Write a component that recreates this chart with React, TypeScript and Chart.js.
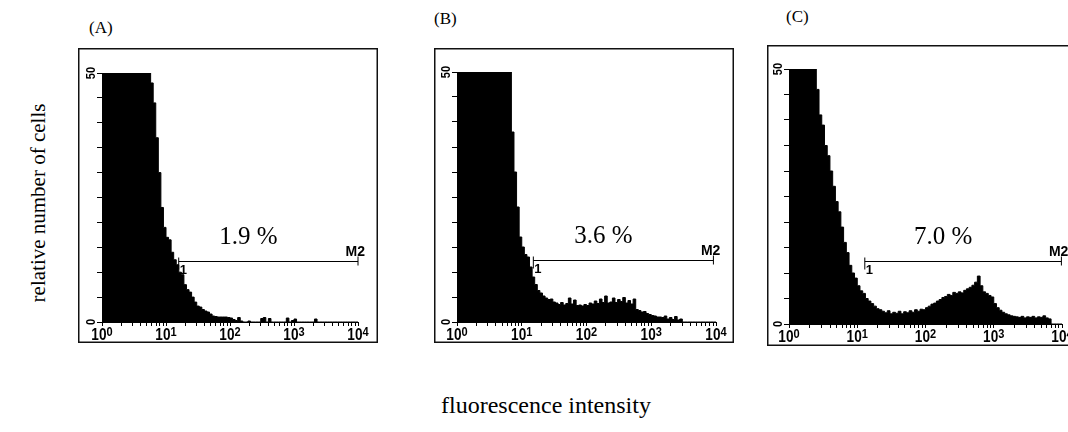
import React, { useEffect, useRef } from 'react';
import { Chart, registerables } from 'chart.js';

Chart.register(...registerables);

// ---- data (channels: 25 per decade, 10^0 .. 10^4) ----
const BINS_PER_DECADE = 25;

const COUNTS_A = [
  50, 50, 50, 50, 50, 50, 50, 50, 50, 50,
  50, 50, 50, 50, 50, 50, 50, 50, 50, 50,
  48, 44, 37, 30, 23, 19, 17, 16.5, 14, 12.5,
  11.5, 10, 9.5, 7.5, 6.5, 6, 5, 4, 3.2, 3,
  2.5, 2.2, 2, 1.6, 1.2, 1.1, 1, 1, 1, 1,
  0.9, 0.8, 0.5, 0.3, 0.9, 0.2, 0, 0, 0.2, 0,
  0, 0, 0, 0.7, 0.9, 0, 0.7, 0, 0, 0,
  0, 0, 0, 0.8, 0, 0.3, 0.6, 0, 0, 0,
  0, 0, 0, 0, 0.6, 0, 0, 0, 0, 0,
  0, 0, 0, 0, 0, 0, 0, 0, 0, 0,
];

const COUNTS_B = [
  50, 50, 50, 50, 50, 50, 50, 50, 50, 50,
  50, 50, 50, 50, 50, 50, 50, 50, 50, 50,
  50, 50, 38, 30, 23, 17, 15, 13.5, 13, 11,
  9, 7.5, 6.3, 5.8, 5.2, 4.8, 4.5, 4.6, 4.0, 3.8,
  3.5, 3.9, 3.4, 3.7, 4.8, 3.6, 4.4, 3.3, 3.4, 3.2,
  3.5, 3.3, 3.8, 3.6, 4.2, 3.7, 4.6, 3.9, 5.2, 3.8,
  4.0, 4.8, 3.9, 4.5, 4.1, 4.9, 3.8, 4.3, 3.6, 4.6,
  2.5, 2.3, 2.0, 2.1, 1.7, 1.5, 1.3, 1.2, 1.0, 1.0,
  0.9, 1.2, 0.6, 0.9, 0.5, 1.1, 0.4, 0.6, 0, 0,
  0, 0, 0, 0, 0, 0, 0, 0, 0, 0,
];

const COUNTS_C = [
  50, 50, 50, 50, 50, 50, 50, 50, 50, 50,
  50, 46, 41, 39, 35, 33, 30, 27, 24, 22,
  19, 16, 14, 11.5, 10, 9, 7.5, 6.5, 6, 5,
  4.5, 4, 3.5, 3, 2.8, 2.5, 2.2, 2.6, 2.0, 2.3,
  2.1, 2.5, 2.0, 2.4, 2.2, 2.6, 2.3, 2.8, 2.5, 2.9,
  2.8, 3.2, 3.5, 3.9, 4.1, 4.5, 4.8, 5.2, 5.4, 5.8,
  5.6, 6.2, 6.0, 6.3, 6.1, 6.6, 6.9, 7.2, 7.6, 8.2,
  9.4, 7.5, 6.3, 6.0, 5.6, 5.3, 4.0, 3.2, 2.7, 2.3,
  2.0, 1.8, 1.6, 1.5, 1.4, 1.3, 1.5, 1.2, 1.4, 1.3,
  1.5, 1.2, 1.4, 1.3, 1.6, 1.2, 1.0, 0, 0, 0,
];

const X_TICK_VALUES = [
  1, 2, 3, 4, 5, 6, 7, 8, 9,
  10, 20, 30, 40, 50, 60, 70, 80, 90,
  100, 200, 300, 400, 500, 600, 700, 800, 900,
  1000, 2000, 3000, 4000, 5000, 6000, 7000, 8000, 9000,
  10000,
];
// decade labels: base "10" with exponent
const X_LABEL_VALUES = [1, 10, 100, 1000, 10000];
const X_LABEL_BASE = '10';
const X_LABEL_EXPONENTS = ['0', '1', '2', '3', '4'];
const Y_TICK_LABELS = [0, 50];

const PANEL_LABELS = ['(A)', '(B)', '(C)'];
const PERCENT_LABELS = ['1.9 %', '3.6 %', '7.0 %'];
const GATE_NAME = 'M2';
const GATE_START = [15.8, 15.1, 12.9];
const GATE_END = [10000, 9120, 9800];
const GATE_LEVEL = [12.2, 12.35, 12.35];

const Y_TITLE = 'relative number of cells';
const X_TITLE = 'fluorescence intensity';

// ---- layout ----
const GEOMETRY = [
  { left: 78, top: 48, w: 300, h: 295, axisW: 24, axisH: 21, padTop: 25, padRight: 20, labelX: 89, labelY: 28 },
  { left: 434, top: 48, w: 300, h: 295, axisW: 23, axisH: 21, padTop: 24, padRight: 18, labelX: 434, labelY: 19 },
  { left: 767, top: 45, w: 315, h: 301, axisW: 22, axisH: 22, padTop: 24, padRight: 20, labelX: 786, labelY: 17 },
];

const SANS = '"Liberation Sans", Arial, sans-serif';
const SERIF = '"Liberation Serif", "Times New Roman", serif';

const framePlugin = {
  id: 'frame',
  beforeDraw(chart: any) {
    const { ctx, width, height } = chart;
    ctx.save();
    ctx.fillStyle = '#fff';
    ctx.fillRect(0, 0, width, height);
    ctx.strokeStyle = '#111';
    ctx.lineWidth = 1.5;
    ctx.strokeRect(0.75, 0.75, width - 1.5, height - 1.5);
    ctx.restore();
  },
};

const axisLabelPlugin = {
  id: 'axislabels',
  afterDraw(chart: any) {
    const { ctx, scales, chartArea } = chart;
    const y = scales.y;
    const x = scales.x;
    ctx.save();
    ctx.fillStyle = '#000';
    // y labels, rotated
    ctx.font = `bold 13px ${SANS}`;
    ctx.textAlign = 'center';
    ctx.textBaseline = 'middle';
    Y_TICK_LABELS.forEach((v) => {
      ctx.save();
      ctx.translate(chartArea.left - 11, y.getPixelForValue(v));
      ctx.rotate(-Math.PI / 2);
      ctx.scale(0.85, 1);
      ctx.fillText(String(v), 0, 0);
      ctx.restore();
    });
    // x decade labels
    const base = chartArea.bottom;
    X_LABEL_VALUES.forEach((v, i) => {
      const px = x.getPixelForValue(v);
      ctx.save();
      ctx.translate(px, base);
      ctx.scale(0.85, 1);
      ctx.font = `bold 16px ${SANS}`;
      const wb = ctx.measureText(X_LABEL_BASE).width;
      ctx.font = `bold 13px ${SANS}`;
      const we = ctx.measureText(X_LABEL_EXPONENTS[i]).width;
      const start = -(wb + we) / 2;
      ctx.textAlign = 'left';
      ctx.textBaseline = 'alphabetic';
      ctx.font = `bold 16px ${SANS}`;
      ctx.fillText(X_LABEL_BASE, start, 18);
      ctx.font = `bold 13px ${SANS}`;
      ctx.fillText(X_LABEL_EXPONENTS[i], start + wb, 14);
      ctx.restore();
    });
    ctx.restore();
  },
};

function gatePlugin(i: number) {
  return {
    id: 'gate' + i,
    afterDatasetsDraw(chart: any) {
      const { ctx, scales } = chart;
      const x0 = scales.x.getPixelForValue(GATE_START[i]);
      const x1 = scales.x.getPixelForValue(GATE_END[i]);
      const yy = Math.round(scales.y.getPixelForValue(GATE_LEVEL[i])) + 0.5;
      ctx.save();
      ctx.strokeStyle = '#000';
      ctx.fillStyle = '#000';
      ctx.lineWidth = 1;
      ctx.beginPath();
      ctx.moveTo(x0, yy);
      ctx.lineTo(x1, yy);
      ctx.moveTo(x0, yy - 4);
      ctx.lineTo(x0, yy + 8);
      ctx.moveTo(x1, yy - 5);
      ctx.lineTo(x1, yy + 4);
      ctx.stroke();
      ctx.font = `bold 14px ${SANS}`;
      ctx.textAlign = 'right';
      ctx.textBaseline = 'bottom';
      ctx.fillText(GATE_NAME, x1 + 7, yy - 2);
      ctx.textAlign = 'left';
      ctx.textBaseline = 'top';
      ctx.font = `bold 13px ${SANS}`;
      ctx.fillText('1', x0 + 1, yy + 2);
      ctx.font = `25px ${SERIF}`;
      ctx.textAlign = 'center';
      ctx.textBaseline = 'alphabetic';
      ctx.fillText(PERCENT_LABELS[i], (x0 + x1) / 2 - 20, yy - 18);
      ctx.restore();
    },
  };
}

function Histogram({ counts, index }: { counts: number[]; index: number }) {
  const ref = useRef<HTMLCanvasElement>(null);
  const g = GEOMETRY[index];
  useEffect(() => {
    const points = counts.map((c, i) => ({ x: Math.pow(10, i / BINS_PER_DECADE), y: c }));
    points.push({ x: 10000, y: counts[counts.length - 1] });
    const chart = new Chart(ref.current as HTMLCanvasElement, {
      type: 'line',
      data: {
        datasets: [
          {
            data: points,
            stepped: 'after',
            fill: 'origin',
            backgroundColor: '#000',
            borderColor: '#000',
            borderWidth: 1,
            pointRadius: 0,
          },
        ],
      },
      options: {
        animation: false,
        responsive: false,
        events: [],
        plugins: { legend: { display: false }, tooltip: { enabled: false } },
        layout: { padding: { left: 0, top: g.padTop, right: g.padRight, bottom: 0 } },
        scales: {
          x: {
            type: 'logarithmic',
            min: 1,
            max: 10000,
            afterBuildTicks: (s: any) => {
              s.ticks = X_TICK_VALUES.map((v) => ({ value: v }));
            },
            afterFit: (s: any) => {
              s.height = g.axisH;
            },
            grid: { drawOnChartArea: false, drawTicks: true, tickLength: 4, color: '#000' },
            border: { display: true, color: '#000', width: 1 },
            ticks: { display: false, autoSkip: false },
          },
          y: {
            type: 'linear',
            min: 0,
            max: 50,
            ticks: { stepSize: 5, display: false },
            afterFit: (s: any) => {
              s.width = g.axisW;
            },
            grid: { drawOnChartArea: false, drawTicks: true, tickLength: 5, color: '#000' },
            border: { display: true, color: '#000', width: 1 },
          },
        },
      } as any,
      plugins: [framePlugin, gatePlugin(index), axisLabelPlugin],
    });
    return () => chart.destroy();
  }, []);
  return (
    <canvas
      ref={ref}
      width={g.w}
      height={g.h}
      style={{ position: 'absolute', left: g.left, top: g.top, width: g.w, height: g.h }}
    />
  );
}

export default function App() {
  const series = [COUNTS_A, COUNTS_B, COUNTS_C];
  return (
    <div
      style={{
        position: 'absolute',
        left: 0,
        top: 0,
        width: 1068,
        height: 432,
        overflow: 'hidden',
        background: '#fff',
        fontFamily: SERIF,
        color: '#000',
      }}
    >
      {series.map((c, i) => (
        <Histogram key={i} counts={c} index={i} />
      ))}
      {PANEL_LABELS.map((t, i) => (
        <div
          key={t}
          style={{
            position: 'absolute',
            left: GEOMETRY[i].labelX,
            top: GEOMETRY[i].labelY - 10,
            fontSize: 17,
            lineHeight: '20px',
            whiteSpace: 'nowrap',
          }}
        >
          {t}
        </div>
      ))}
      <div
        style={{
          position: 'absolute',
          left: 38 - 150,
          top: 203 - 14,
          width: 300,
          height: 28,
          lineHeight: '28px',
          textAlign: 'center',
          fontSize: 21,
          transform: 'rotate(-90deg)',
          transformOrigin: '50% 50%',
          whiteSpace: 'nowrap',
        }}
      >
        {Y_TITLE}
      </div>
      <div
        style={{
          position: 'absolute',
          left: 546 - 150,
          top: 405 - 14,
          width: 300,
          height: 28,
          lineHeight: '28px',
          textAlign: 'center',
          fontSize: 24,
          whiteSpace: 'nowrap',
        }}
      >
        {X_TITLE}
      </div>
    </div>
  );
}
